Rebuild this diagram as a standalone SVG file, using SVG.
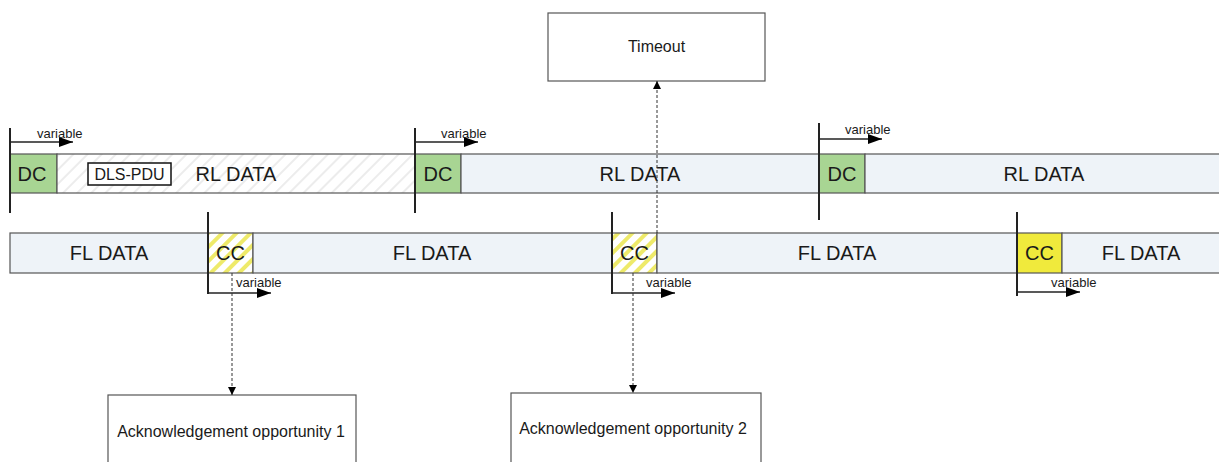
<svg xmlns="http://www.w3.org/2000/svg" width="1219" height="462" viewBox="0 0 1219 462">
<defs>
<pattern id="hatchGray" patternUnits="userSpaceOnUse" width="10" height="10" patternTransform="rotate(45)">
<rect width="10" height="10" fill="#ffffff"/>
<rect width="2" height="10" fill="#ececec"/>
</pattern>
<pattern id="hatchYellow" patternUnits="userSpaceOnUse" width="10" height="10" patternTransform="rotate(45)">
<rect width="10" height="10" fill="#ffffff"/>
<rect width="4" height="10" fill="#eeea6a"/>
</pattern>
<marker id="solidArrow" markerWidth="14" markerHeight="10" refX="14" refY="5" orient="auto" markerUnits="userSpaceOnUse">
<path d="M0,0 L14,5 L0,10 Z" fill="#000"/>
</marker>
<marker id="smallArrow" markerWidth="8" markerHeight="8" refX="8" refY="4" orient="auto" markerUnits="userSpaceOnUse">
<path d="M0,0 L8,4 L0,8 Z" fill="#000"/>
</marker>
</defs>
<style>
.seg{stroke:#555;stroke-width:1.2}
.dc{fill:#a8d593}
.blue{fill:#eef3f8}
.big{font-family:"Liberation Sans",Arial,sans-serif;font-size:20px;fill:#1a1a1a}
.var{font-family:"Liberation Sans",Arial,sans-serif;font-size:13px;fill:#1a1a1a}
.lbl{font-family:"Liberation Sans",Arial,sans-serif;font-size:16px;fill:#1a1a1a}
.pdu{font-family:"Liberation Sans",Arial,sans-serif;font-size:16px;fill:#1a1a1a}
.tick{stroke:#222;stroke-width:2}
.varline{stroke:#222;stroke-width:1.3;fill:none}
.dash{stroke:#333;stroke-width:1;stroke-dasharray:3,2;fill:none}
.box{fill:#fff;stroke:#555;stroke-width:1.2}
</style>

<g id="rl-row">
<rect class="seg dc" x="10" y="154" width="47" height="39"/>
<rect class="seg" x="57" y="154" width="358" height="39" fill="url(#hatchGray)"/>
<rect class="seg dc" x="415" y="154" width="46" height="39"/>
<rect class="seg blue" x="461" y="154" width="358" height="39"/>
<rect class="seg dc" x="819" y="154" width="46" height="39"/>
<rect class="seg blue" x="865" y="154" width="360" height="39"/>
<text class="big" x="32" y="181" text-anchor="middle">DC</text>
<text class="big" x="438" y="181" text-anchor="middle">DC</text>
<text class="big" x="842" y="181" text-anchor="middle">DC</text>
<rect x="88" y="163" width="83" height="22" fill="#fff" stroke="#111" stroke-width="1.5"/>
<text class="pdu" x="129.5" y="180" text-anchor="middle">DLS-PDU</text>
<text class="big" x="236" y="181" text-anchor="middle">RL DATA</text>
<text class="big" x="640" y="181" text-anchor="middle">RL DATA</text>
<text class="big" x="1044" y="181" text-anchor="middle">RL DATA</text>
</g>

<g id="fl-row">
<rect class="seg blue" x="10" y="233" width="198" height="40"/>
<rect class="seg" x="208" y="233" width="45" height="40" fill="url(#hatchYellow)"/>
<rect class="seg blue" x="253" y="233" width="359" height="40"/>
<rect class="seg" x="612" y="233" width="45" height="40" fill="url(#hatchYellow)"/>
<rect class="seg blue" x="657" y="233" width="360" height="40"/>
<rect class="seg" x="1017" y="233" width="45" height="40" fill="#f0ea3c"/>
<rect class="seg blue" x="1062" y="233" width="162" height="40"/>
<text class="big" x="109" y="260" text-anchor="middle">FL DATA</text>
<text class="big" x="230.5" y="260" text-anchor="middle">CC</text>
<text class="big" x="432" y="260" text-anchor="middle">FL DATA</text>
<text class="big" x="634.5" y="260" text-anchor="middle">CC</text>
<text class="big" x="837" y="260" text-anchor="middle">FL DATA</text>
<text class="big" x="1039.5" y="260" text-anchor="middle">CC</text>
<text class="big" x="1141" y="260" text-anchor="middle">FL DATA</text>
</g>

<g id="timeout">
<rect class="box" x="548" y="13" width="217" height="68"/>
<text class="lbl" x="656.5" y="52" text-anchor="middle">Timeout</text>
</g>
<g id="ack1">
<rect class="box" x="108" y="395" width="248" height="80"/>
<text class="lbl" x="231" y="437" text-anchor="middle">Acknowledgement opportunity 1</text>
</g>
<g id="ack2">
<rect class="box" x="511" y="393" width="250" height="80"/>
<text class="lbl" x="633" y="434" text-anchor="middle">Acknowledgement opportunity 2</text>
</g>

<g id="connectors">
<line class="tick" x1="10" y1="128" x2="10" y2="213"/>
<line class="tick" x1="415" y1="128" x2="415" y2="213"/>
<line class="tick" x1="819" y1="123" x2="819" y2="220"/>
<line class="tick" x1="208" y1="212" x2="208" y2="294"/>
<line class="tick" x1="612" y1="212" x2="612" y2="294"/>
<line class="tick" x1="1017" y1="212" x2="1017" y2="296"/>

<line class="varline" x1="10" y1="142" x2="73" y2="142" marker-end="url(#solidArrow)"/>
<line class="varline" x1="415" y1="142" x2="478" y2="142" marker-end="url(#solidArrow)"/>
<line class="varline" x1="819" y1="139" x2="882" y2="139" marker-end="url(#solidArrow)"/>
<line class="varline" x1="208" y1="293" x2="271" y2="293" marker-end="url(#solidArrow)"/>
<line class="varline" x1="612" y1="293" x2="675" y2="293" marker-end="url(#solidArrow)"/>
<line class="varline" x1="1017" y1="292" x2="1080" y2="292" marker-end="url(#solidArrow)"/>
<text class="var" x="37" y="138">variable</text>
<text class="var" x="441" y="138">variable</text>
<text class="var" x="845" y="134">variable</text>
<text class="var" x="236" y="287">variable</text>
<text class="var" x="646" y="287">variable</text>
<text class="var" x="1051" y="287">variable</text>

<line class="dash" x1="232" y1="273" x2="232" y2="395" marker-end="url(#smallArrow)"/>
<line class="dash" x1="633" y1="273" x2="633" y2="393" marker-end="url(#smallArrow)"/>
<line class="dash" x1="657" y1="233" x2="657" y2="81" marker-end="url(#smallArrow)"/>
</g>
</svg>
